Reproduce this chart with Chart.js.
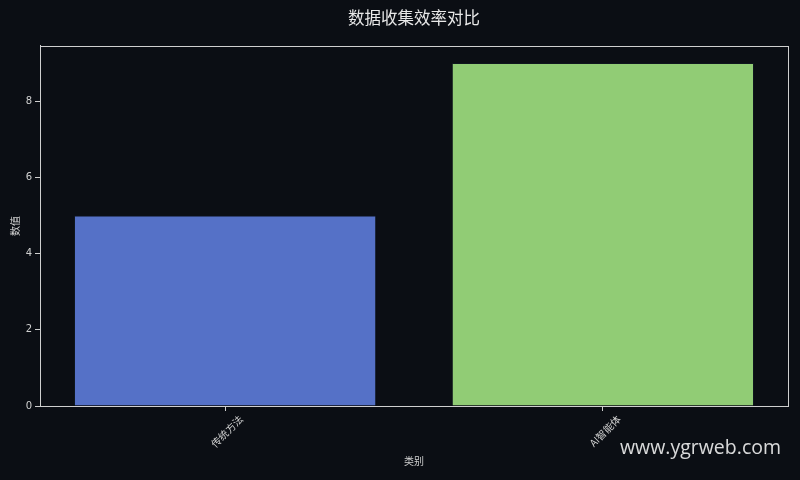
<!DOCTYPE html>
<html>
<head>
<meta charset="utf-8">
<script src="https://cdn.jsdelivr.net/npm/chart.js@4.4.1/dist/chart.umd.min.js"></script>
<style>
  html, body { margin:0; padding:0; background:#0b0e14; }
  #wrap { width:800px; height:480px; position:relative; }
</style>
</head>
<body>
<div id="wrap"><canvas id="c" width="800" height="480"></canvas></div>
<script>
const categories = ['传统方法', 'AI智能体'];
const values = [5, 9];
const barColors = ['#5571c7', '#91cc75'];
const yTicks = [0, 2, 4, 6, 8];
const titleText = '数据收集效率对比';
const xTitle = '类别';
const yTitle = '数值';
const watermark = 'www.ygrweb.com';

const FONT = '"DejaVu Sans", "Noto Sans CJK SC", sans-serif';
const CJK = '"Noto Sans CJK SC", "DejaVu Sans", sans-serif';
const AXIS = '#cfcfcf';

const framePlugin = {
  id: 'frame',
  afterDraw(chart) {
    const {ctx, chartArea: a} = chart;
    ctx.save();
    ctx.strokeStyle = AXIS;
    ctx.lineWidth = 1;
    ctx.strokeRect(Math.round(a.left) + 0.5, Math.round(a.top) + 0.5,
                   Math.round(a.right - a.left), Math.round(a.bottom - a.top));
    ctx.font = '19.5px "Open Sans", "Noto Sans", sans-serif';
    ctx.fillStyle = 'rgba(240,240,240,0.9)';
    ctx.textAlign = 'right';
    ctx.textBaseline = 'alphabetic';
    ctx.fillText(watermark, 781, 454);
    ctx.restore();
  }
};

new Chart(document.getElementById('c'), {
  type: 'bar',
  data: {
    datasets: [{
      data: categories.map((c, i) => ({x: i, y: values[i]})),
      backgroundColor: barColors,
      borderColor: 'rgba(20,30,40,0.5)',
      borderWidth: 1,
      categoryPercentage: 0.8,
      barPercentage: 1.0
    }]
  },
  options: {
    responsive: false,
    animation: false,
    devicePixelRatio: 1,
    layout: { padding: { left: 0, right: 12, top: 0, bottom: 0 } },
    plugins: {
      legend: { display: false },
      tooltip: { enabled: false },
      title: {
        display: true,
        fullSize: false,
        text: titleText,
        color: '#e8e8e8',
        font: { family: CJK, size: 16.5, weight: 'normal', lineHeight: 1.2 },
        padding: { top: 8, bottom: 18 }
      }
    },
    scales: {
      x: {
        type: 'linear',
        offset: false,
        min: -0.49,
        max: 1.49,
        afterBuildTicks(scale) { scale.ticks = categories.map((c, i) => ({value: i})); },
        afterFit(scale) { scale.height = 74; },
        ticks: {
          autoSkip: false,
          minRotation: 45,
          maxRotation: 45,
          labelOffset: 16,
          padding: 2,
          color: '#d0d0d0',
          font: { family: CJK, size: 10 },
          callback: (v) => categories[v]
        },
        grid: { offset: false, drawOnChartArea: false, drawTicks: true, tickLength: 5, color: AXIS },
        border: { display: true, color: AXIS },
        title: {
          display: true, text: xTitle, color: '#d0d0d0',
          font: { family: CJK, size: 10, lineHeight: 1.2 },
          padding: { top: 0, bottom: 13 }
        }
      },
      y: {
        type: 'linear',
        min: 0,
        max: 9.45,
        afterBuildTicks(scale) { scale.ticks = yTicks.map(v => ({value: v})); },
        afterFit(scale) { scale.width = 40; },
        ticks: {
          padding: 3,
          color: '#d0d0d0',
          font: { family: FONT, size: 10 }
        },
        grid: { drawOnChartArea: false, drawTicks: true, tickLength: 5, color: AXIS },
        border: { display: true, color: AXIS },
        title: {
          display: true, text: yTitle, color: '#d0d0d0',
          font: { family: CJK, size: 10, lineHeight: 1.2 },
          padding: { top: 9, bottom: 0 }
        }
      }
    }
  },
  plugins: [framePlugin]
});
</script>
</body>
</html>
